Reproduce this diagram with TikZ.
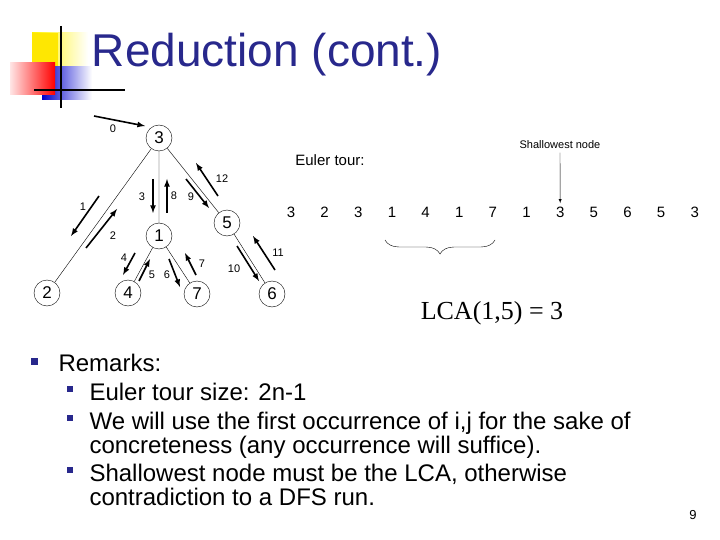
\documentclass[tikz,border=0pt]{standalone}
\usepackage{fontspec}
\setmainfont{Liberation Sans}
\newfontfamily\lcafont{Liberation Serif}
\usetikzlibrary{decorations.pathreplacing}
\definecolor{titleblue}{RGB}{40,40,140}
\begin{document}
\begin{tikzpicture}[x=1pt,y=-1pt,
  vert/.style={draw,circle,thin,minimum size=26pt,inner sep=0pt,font=\fontsize{17}{17}\selectfont},
  walk/.style={-latex,line width=1.6pt},
  stepno/.style={font=\fontsize{11}{11}\selectfont},
  tour/.style={font=\fontsize{15}{15}\selectfont}]
\useasboundingbox (0,0) rectangle (720,540);
% logo
\shade[left color=yellow!90!orange,right color=white] (32,33) rectangle (88,67);
\fill[yellow!90!orange] (32,33) rectangle (58,67);
\shade[left color=blue!80!black,right color=white] (42,67) rectangle (92,100);
\shade[left color=red!10,right color=red] (10,63) rectangle (55,95);
\draw[line width=1.5pt] (61,26) -- (61,108);
\draw[line width=1.5pt] (34,90) -- (125,90);
\node[titleblue,font=\fontsize{46}{46}\selectfont] (title) at (267,55) {Reduction (cont.)};
% tree
\node[vert] (n3) at (159,138) {3};
\node[vert] (n1) at (159,236) {1};
\node[vert] (n5) at (227,223) {5};
\node[vert] (n2) at (47,293) {2};
\node[vert] (n4) at (128,293) {4};
\node[vert] (n7) at (197,294) {7};
\node[vert] (n6) at (272,294) {6};
\draw (n3) -- (n2) (n3) -- (n1) (n3) -- (n5)
      (n1) -- (n4) (n1) -- (n7) (n5) -- (n6);
% walk
\draw[walk] (94,116) -- (145,126);
\node[stepno] at (113,129) {0};
\draw[walk] (99,196) -- (71,236); \node[stepno] at (83,207) {1};
\draw[walk] (86,248) -- (117,209); \node[stepno] at (113,236) {2};
\draw[walk] (153,179) -- (153,213); \node[stepno] at (142,197) {3};
\draw[walk] (135,253) -- (123,275); \node[stepno] at (124,258) {4};
\draw[walk] (139,281) -- (150,259); \node[stepno] at (152,275) {5};
\draw[walk] (169,259) -- (180,287); \node[stepno] at (167,275) {6};
\draw[walk] (196,275) -- (185,253); \node[stepno] at (202,264) {7};
\draw[walk] (167,213) -- (167,179); \node[stepno] at (174,196) {8};
\draw[walk] (186,179) -- (209,208); \node[stepno] at (191,197) {9};
\draw[walk] (237,246) -- (259,281); \node[stepno] at (234,269) {10};
\draw[walk] (275,270) -- (253,236); \node[stepno] at (278,253) {11};
\draw[walk] (218,196) -- (196,163); \node[stepno] at (222,179) {12};
% euler tour
\node[font=\fontsize{15}{15}\selectfont] (eul) at (330,160) {Euler tour:};
\foreach \v [count=\i] in {3,2,3,1,4,1,7,1,3,5,6,5,3}
  \node[tour] (t\i) at ({291+33.65*(\i-1)},212) {\v};
\node[stepno] (shal) at (560,145) {Shallowest node};
\draw[-latex] (shal.south) -- (t9.north);
\draw[decorate,decoration={brace,amplitude=14pt,mirror}] (385,240) -- (495,240);
\node[font=\lcafont\fontsize{26}{26}\selectfont] (lca) at (492,313) {LCA(1,5) = 3};
% remarks
\begin{scope}[font=\fontsize{24}{27}\selectfont]
\fill[titleblue] (31,358) rectangle (38,365);
\node[anchor=base west] (r0) at (55,371) {Remarks:};
\foreach \y in {393,422,474}
  \fill[titleblue] (67,\y-7) rectangle (73,\y-1);
\node[anchor=base west] (r1) at (86,400) {Euler tour size: 2n-1};
\node[anchor=base west] (r2) at (86,429) {We will use the first occurrence of i,j for the sake of};
\node[anchor=base west] (r2b) at (86,453) {concreteness (any occurrence will suffice).};
\node[anchor=base west] (r3) at (86,481) {Shallowest node must be the LCA, otherwise};
\node[anchor=base west] (r3b) at (86,505) {contradiction to a DFS run.};
\end{scope}
\node[font=\fontsize{13}{13}\selectfont] (page) at (693,515) {9};
\end{tikzpicture}
\end{document}
